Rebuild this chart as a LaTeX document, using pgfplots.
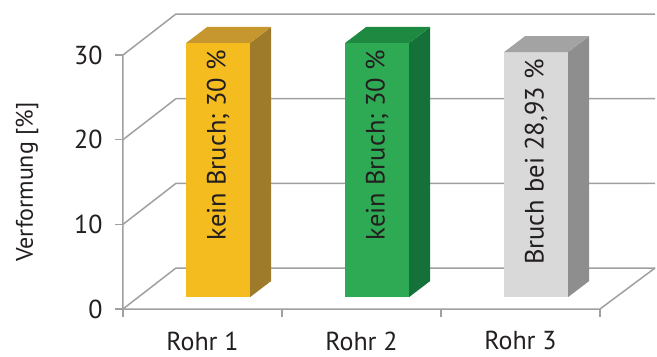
\documentclass[border=0pt]{standalone}
\usepackage{pgfplots}
\pgfplotsset{compat=1.18}
\usepackage{fontspec}
\setmainfont{PT Sans}
\definecolor{gridc}{HTML}{A0A0A0}
\definecolor{txt}{HTML}{231F20}
\definecolor{yfront}{HTML}{F5BC1F}
\definecolor{yside}{HTML}{9E7A2B}
\definecolor{ytop}{HTML}{C6972F}
\definecolor{gfront}{HTML}{2EAA55}
\definecolor{gside}{HTML}{137139}
\definecolor{gtop}{HTML}{1E8A41}
\definecolor{sfront}{HTML}{D9D9D9}
\definecolor{sside}{HTML}{8E8E8E}
\definecolor{stop}{HTML}{A3A3A3}
\begin{document}
\begin{tikzpicture}
\begin{axis}[
  scale only axis, width=532.65pt, height=295pt,
  xmin=0, xmax=3.35, ymin=0, ymax=34.84,
  clip=false,
  axis lines*=left,
  axis line style={draw=none},
  tick align=outside,
  major tick length=8pt,
  tick style={gridc, line width=1.5pt},
  xtick={0,1,2,3}, xticklabels={},
  extra x ticks={0.5,1.5,2.5},
  extra x tick labels={Rohr 1,Rohr 2,Rohr 3},
  extra x tick style={major tick length=0pt, xticklabel style={yshift=-19pt}},
  ytick={0,10,20,30},
  yticklabel style={xshift=-9pt},
  /pgf/number format/assume math mode=true,
  ticklabel style={font=\fontsize{26}{30}\selectfont, text=txt},
]
% bounding box
\path (axis cs:-0.7736,-5.551) rectangle (axis cs:3.3585,36.494);
% walls and grid
\addplot[gridc, line width=1.5pt, forget plot] coordinates {(0,30) (0.333,34.84) (3.346,34.84)};
\addplot[gridc, line width=1.5pt, forget plot] coordinates {(0,20) (0.333,24.84) (3.346,24.84)};
\addplot[gridc, line width=1.5pt, forget plot] coordinates {(0,10) (0.333,14.84) (3.346,14.84)};
\addplot[gridc, line width=1.5pt, forget plot] coordinates {(0,0) (0.333,4.84) (3.346,4.84)};
\addplot[gridc, line width=1.5pt, forget plot] coordinates {(0,30) (0,0) (3,0) (3.346,4.84)};
% bar 1 (30)
\addplot[fill=yfront, draw=none, forget plot] coordinates {(0.397,1.417) (0.800,1.417) (0.800,31.417) (0.397,31.417)} --cycle;
\addplot[fill=yside, draw=none, forget plot] coordinates {(0.800,1.417) (0.932,3.307) (0.932,33.307) (0.800,31.417)} --cycle;
\addplot[fill=ytop, draw=none, forget plot] coordinates {(0.397,31.417) (0.800,31.417) (0.932,33.307) (0.529,33.307)} --cycle;
% bar 2 (30)
\addplot[fill=gfront, draw=none, forget plot] coordinates {(1.397,1.417) (1.800,1.417) (1.800,31.417) (1.397,31.417)} --cycle;
\addplot[fill=gside, draw=none, forget plot] coordinates {(1.800,1.417) (1.932,3.307) (1.932,33.307) (1.800,31.417)} --cycle;
\addplot[fill=gtop, draw=none, forget plot] coordinates {(1.397,31.417) (1.800,31.417) (1.932,33.307) (1.529,33.307)} --cycle;
% bar 3 (28.93)
\addplot[fill=sfront, draw=none, forget plot] coordinates {(2.397,1.417) (2.800,1.417) (2.800,30.347) (2.397,30.347)} --cycle;
\addplot[fill=sside, draw=none, forget plot] coordinates {(2.800,1.417) (2.932,3.307) (2.932,32.237) (2.800,30.347)} --cycle;
\addplot[fill=stop, draw=none, forget plot] coordinates {(2.397,30.347) (2.800,30.347) (2.932,32.237) (2.529,32.237)} --cycle;
% labels
\node[rotate=90, anchor=east, inner sep=0pt, text=txt, font=\fontsize{26.5}{30}\selectfont] at (axis cs:0.5985,30.59) {kein Bruch; 30 \%};
\node[rotate=90, anchor=east, inner sep=0pt, text=txt, font=\fontsize{26.5}{30}\selectfont] at (axis cs:1.5985,30.59) {kein Bruch; 30 \%};
\node[rotate=90, anchor=east, inner sep=0pt, text=txt, font=\fontsize{26.5}{30}\selectfont] at (axis cs:2.5985,29.52) {Bruch bei 28,93 \%};
\node[rotate=90, text=txt, font=\fontsize{24}{28}\selectfont] at (axis cs:-0.604,15) {Verformung [\%]};
\end{axis}
\end{tikzpicture}
\end{document}
